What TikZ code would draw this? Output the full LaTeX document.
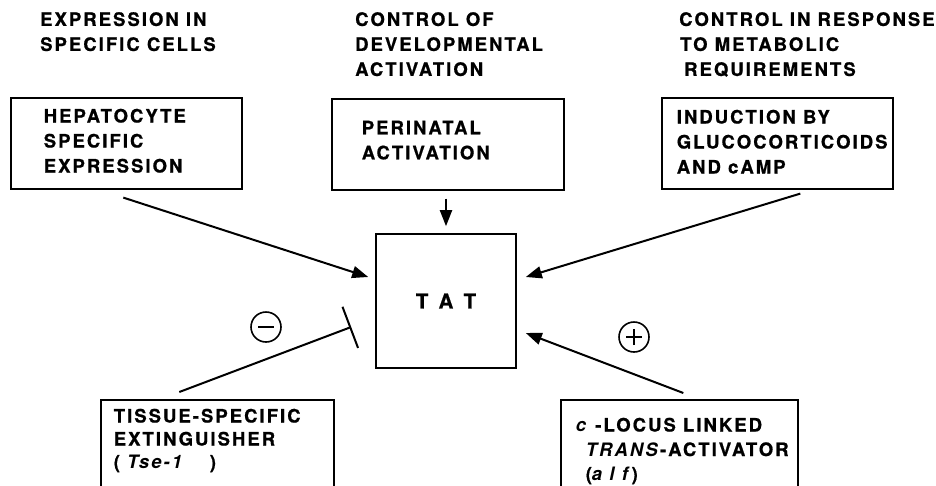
\documentclass[tikz,border=0pt]{standalone}
\usepackage{fontspec}
\setmainfont{TeX Gyre Heros}[LetterSpace=11, BoldFeatures={FakeBold=0.8}]
\newfontfamily\tatfont{TeX Gyre Heros}[LetterSpace=58, BoldFeatures={FakeBold=0.8}]
\usetikzlibrary{arrows.meta,positioning}

\tikzset{
  head/.style={anchor=north west, inner sep=0pt, align=left,
    font=\bfseries\fontsize{18.5}{25}\selectfont},
  panel/.style={draw, line width=1.6pt, anchor=north west,
    font=\bfseries\fontsize{18.5}{25}\selectfont},
  link/.style={line width=2pt, -{Triangle[length=16pt,width=12pt]}},
  block/.style={line width=2pt, -{Bar[width=44pt]}},
  sign/.style={circle, draw, line width=1.6pt, minimum size=30pt, inner sep=0pt}
}

\begin{document}
\begin{tikzpicture}[x=1pt, y=-1pt]

    \useasboundingbox (0,0) rectangle (936,485);

    % Headings
    \node[head] (hcells) at (40,12)  {EXPRESSION IN\\SPECIFIC CELLS};
    \node[head] (hdevel) at (355,12) {CONTROL OF\\DEVELOPMENTAL\\ACTIVATION};
    \node[head] (hmetab) at (679,12) {CONTROL IN RESPONSE\\
      \hspace*{1pt}TO METABOLIC\\\hspace*{5pt}REQUIREMENTS};

    % Upper boxes
    \node[panel, inner xsep=33pt, inner ysep=11pt] (hep) at (10,97)
      {\parbox[t][69pt][t]{165pt}{HEPATOCYTE\\SPECIFIC\\EXPRESSION}};
    \node[panel, inner xsep=30pt, inner ysep=22pt] (peri) at (331,98)
      {\parbox[t][47pt][t]{172pt}{PERINATAL\\ACTIVATION}};
    \node[panel, inner xsep=15pt, inner ysep=12pt] (induc) at (661,97)
      {\parbox[t][67pt][t]{201pt}{INDUCTION BY\\\mbox{GLUCOCORTICOIDS}\\AND cAMP}};

    % Gene
    \node[draw, line width=1.6pt, minimum width=140pt, minimum height=134pt,
      font=\tatfont\bfseries\fontsize{20.5}{24}\selectfont] (tat) at (446,301) {TAT};

    % Lower boxes
    \node[panel, inner xsep=13pt, inner ysep=9pt] (tse) at (100,399)
      {\parbox[t][90pt][t]{207pt}{\fontsize{18.5}{23}\selectfont
        TISSUE-SPECIFIC\\EXTINGUISHER\\( \textit{Tse-1}\quad\ )}};
    \node[panel, inner xsep=15pt, inner ysep=18pt] (alf) at (560,399)
      {\parbox[t][80pt][t]{207pt}{\fontsize{18.5}{24.5}\selectfont
        \mbox{\textit{c} -LOCUS LINKED}\\
        \mbox{\hspace*{10pt}\textit{TRANS}-ACTIVATOR}\\
        \mbox{\hspace*{10pt}(\textit{a l f})}}};

    % Connectors
    \draw[link] ([xshift=-3pt,yshift=-8pt]hep.south) -- ([xshift=-7pt,yshift=24pt]tat.west);
    \draw[link, shorten <=8pt, shorten >=7pt] (tat.north |- peri.south) -- (tat.north);
    \draw[link] ([xshift=23pt,yshift=-4pt]induc.south) -- ([xshift=9pt,yshift=24pt]tat.east);
    \draw[link] ([xshift=4pt,yshift=6pt]alf.north) -- ([xshift=9pt,yshift=-32pt]tat.east);
    \draw[block] ([xshift=-38pt,yshift=7pt]tse.north) -- ([xshift=-24pt,yshift=-26pt]tat.west);

    % Signs
    \node[sign] (neg) at (266,327) {};
    \draw[line width=1.8pt] ([xshift=-8pt]neg.center) -- ([xshift=8pt]neg.center);
    \node[sign] (pos) at (634,337) {};
    \draw[line width=1.8pt] ([xshift=-8pt]pos.center) -- ([xshift=8pt]pos.center);
    \draw[line width=1.8pt] ([yshift=-8pt]pos.center) -- ([yshift=8pt]pos.center);

\end{tikzpicture}
\end{document}
